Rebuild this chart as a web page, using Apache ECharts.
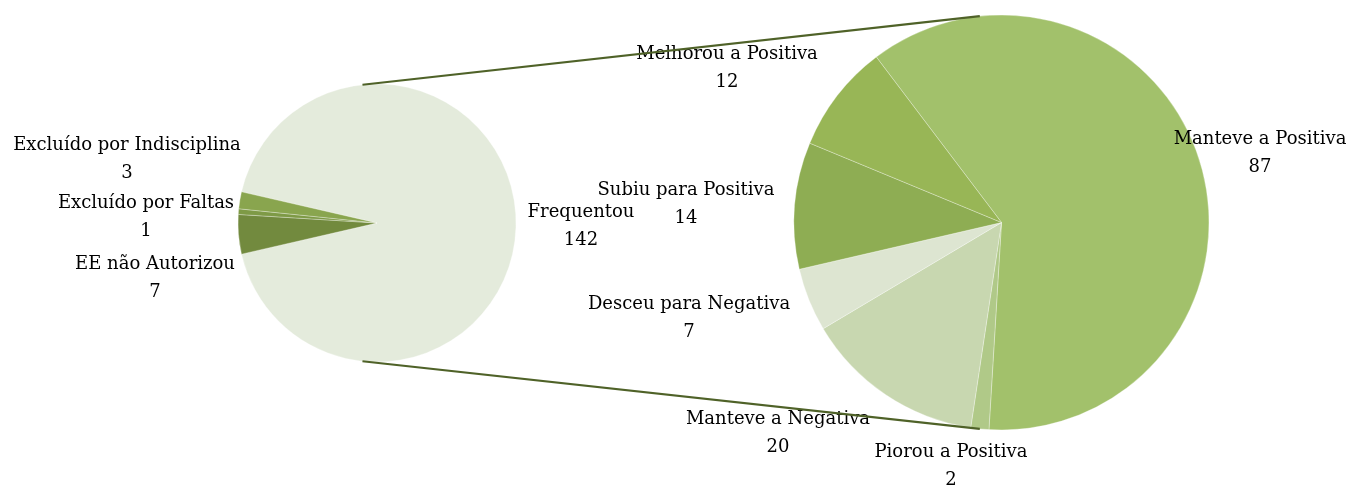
<!DOCTYPE html>
<html>
<head>
<meta charset="utf-8">
<script src="https://cdn.jsdelivr.net/npm/echarts@6/dist/echarts.min.js"></script>
<style>
html,body{margin:0;padding:0;background:#fff;}
#chart{width:1351px;height:486px;}
</style>
</head>
<body>
<div id="chart"></div>
<script>
// ---- data ----
const mainCategories = ['Frequentou', 'EE não Autorizou', 'Excluído por Faltas', 'Excluído por Indisciplina'];
const mainValues = [142, 7, 1, 3];
const subCategories = ['Manteve a Positiva', 'Piorou a Positiva', 'Manteve a Negativa', 'Desceu para Negativa', 'Subiu para Positiva', 'Melhorou a Positiva'];
const subValues = [87, 2, 20, 7, 14, 12];

// ---- layout / style ----
const mainColors = ['#E4EBDC', '#728A3E', '#7E9A46', '#89A54E'];
const subColors = ['#A2C16B', '#B0C988', '#C8D7B0', '#DDE5D1', '#8EAD53', '#98B656'];
const leftPie = {cx: 377, cy: 223, r: 139};
const rightPie = {cx: 1001.5, cy: 222.5, r: 207.5};
const rightStart = 127.1;
const connectorAngle = 96;
const mainLabelPos = [[581, 226.5], [155, 278.5], [146, 217.5], [127, 159]];
const subLabelPos = [[1260, 153.5], [951, 466.5], [778, 433.5], [689, 318], [686, 204], [727, 68.5]];

const total = mainValues.reduce((a, b) => a + b, 0);
const otherSum = total - mainValues[0];
const leftStart = 180 - (otherSum / total) * 180;

const font = {fontFamily: 'DejaVu Serif', fontSize: 18, color: '#000', lineHeight: 28};

function pt(p, deg) {
  const a = deg * Math.PI / 180;
  return [p.cx + p.r * Math.cos(a), p.cy - p.r * Math.sin(a)];
}

const chart = echarts.init(document.getElementById('chart'), null, {renderer: 'canvas'});

function makeSeries(cats, vals, colors, p, start, labelPos) {
  return {
    type: 'pie',
    center: [p.cx, p.cy],
    radius: [0, p.r],
    startAngle: start,
    clockwise: true,
    avoidLabelOverlap: false,
    silent: true,
    animation: false,
    itemStyle: {borderColor: 'rgba(255,255,255,0.5)', borderWidth: 0.6},
    label: Object.assign({show: true, position: 'outside', formatter: '{b}\n{c}', align: 'center'}, font),
    labelLine: {show: false},
    labelLayout: function (params) {
      const lp = labelPos[params.dataIndex];
      return {x: lp[0], y: lp[1], align: 'center', verticalAlign: 'middle'};
    },
    data: cats.map((c, i) => ({name: c, value: vals[i], itemStyle: {color: colors[i]}}))
  };
}

const lt = pt(leftPie, connectorAngle), lb = pt(leftPie, -connectorAngle);
const rt = pt(rightPie, connectorAngle), rb = pt(rightPie, -connectorAngle);

chart.setOption({
  backgroundColor: '#fff',
  animation: false,
  series: [
    makeSeries(mainCategories, mainValues, mainColors, leftPie, leftStart, mainLabelPos),
    makeSeries(subCategories, subValues, subColors, rightPie, rightStart, subLabelPos)
  ],
  graphic: [
    {type: 'line', z: 100, shape: {x1: lt[0], y1: lt[1], x2: rt[0], y2: rt[1]}, style: {stroke: '#4F6228', lineWidth: 2.2}},
    {type: 'line', z: 100, shape: {x1: lb[0], y1: lb[1], x2: rb[0], y2: rb[1]}, style: {stroke: '#4F6228', lineWidth: 2.2}}
  ]
});
</script>
</body>
</html>
